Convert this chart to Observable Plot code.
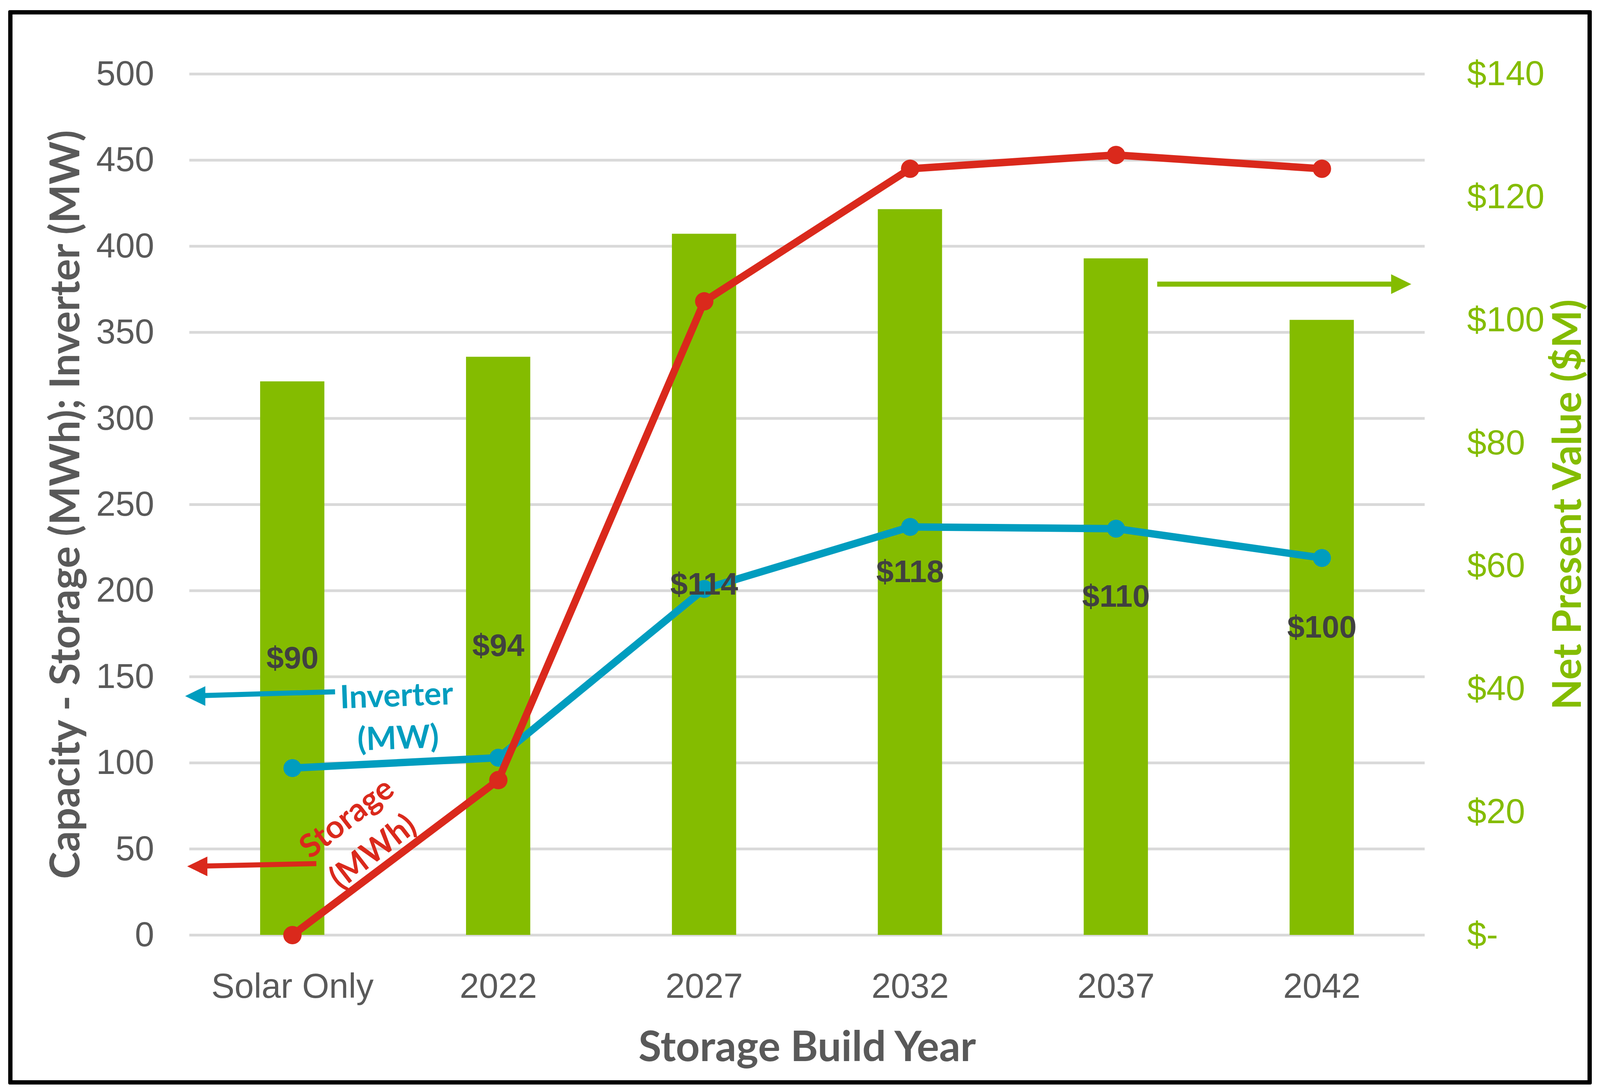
<!DOCTYPE html>
<html>
<head>
<meta charset="utf-8">
<script src="https://cdn.jsdelivr.net/npm/d3@7"></script>
<script src="https://cdn.jsdelivr.net/npm/@observablehq/plot@0.6"></script>
<style>
  html, body { margin: 0; padding: 0; background: #ffffff; overflow: hidden; }
  #chart { position: relative; }
  #chart svg { display: block; }
  #border { position: absolute; box-sizing: border-box; border-style: solid; border-color: #000; border-radius: 4px; pointer-events: none; }
</style>
</head>
<body>
<div id="chart"><div id="border"></div></div>
<script>
// ---- data ----
const categories = ["Solar Only", "2022", "2027", "2032", "2037", "2042"];
const npvValues = [90, 94, 114, 118, 110, 100];          // Net Present Value ($M), right axis
const storageMWh = [0, 90, 368, 445, 453, 445];          // Storage (MWh), left axis
const inverterMW = [97, 103, 201, 237, 236, 219];        // Inverter (MW), left axis
const capacityTicks = [0, 50, 100, 150, 200, 250, 300, 350, 400, 450, 500];
const npvTicks = [0, 20, 40, 60, 80, 100, 120, 140];
const npvTickLabels = ["$-", "$20", "$40", "$60", "$80", "$100", "$120", "$140"];

// annotations (data space: x = category index, y = capacity units)
const annotationTexts = [
  {label: "Inverter\n(MW)", x: 0.509, y: 128.4, angle: -2, series: "inverter"},
  {label: "Storage\n(MWh)", x: 0.318, y: 59.7, angle: -36, series: "storage"}
];
const annotationArrows = [
  {x1: 0.207, y1: 141.3, x2: -0.521, y2: 138.8, series: "inverter"},
  {x1: 0.116, y1: 41.5, x2: -0.511, y2: 39.9, series: "storage"},
  {x1: 4.200, y1: 378.0, x2: 5.434, y2: 378.0, series: "npv"}
];

// ---- layout (designed at 4353 x 2790, fitted to the window) ----
const W = document.documentElement.clientWidth || window.innerWidth || 4353;
const H = window.innerHeight || 2790;
const sx = W / 4353, sy = H / 2790;
const X = v => v * sx, Y = v => v * sy;

const GREEN = "#84BC00", RED = "#DA291C", BLUE = "#009DBF", GRAY = "#595959", DARK = "#404040";
const seriesColor = {inverter: BLUE, storage: RED, npv: GREEN};
const leftMax = capacityTicks[capacityTicks.length - 1];
const rightMax = npvTicks[npvTicks.length - 1];
const k = leftMax / rightMax; // NPV -> left-axis units
const barHalf = 0.156;
const TICK_FONT = "'Liberation Sans', Arial, sans-serif";
const TITLE_FONT = "Lato, 'Open Sans', sans-serif";

const border = document.getElementById("border");
Object.assign(border.style, {left: X(22) + "px", top: Y(26) + "px", width: X(4309) + "px", height: Y(2750) + "px", borderWidth: Y(11) + "px"});

const rows = categories.map((c, i) => ({i, cat: c, npv: npvValues[i], storage: storageMWh[i], inverter: inverterMW[i]}));
const labels = annotationTexts.map(a => ({...a, rot: Math.atan(Math.tan(a.angle * Math.PI / 180) * sy / sx) * 180 / Math.PI}));

const arrowHead = {
  draw(context, size) {
    const s = Math.sqrt(size / Math.PI);
    const L = s * 2.15, Wd = s * 2.1;
    context.moveTo(0, 0);
    context.lineTo(-L, -Wd / 2);
    context.lineTo(-L, Wd / 2);
    context.closePath();
  }
};
const shaftBack = 0.08;
const shafts = annotationArrows.map(a => {
  const dx = a.x1 - a.x2;
  const f = shaftBack / Math.abs(dx);
  return {...a, sx: a.x2 + dx * f, sy: a.y2 + (a.y1 - a.y2) * f, dir: dx > 0 ? 180 : 0};
});

const plot = Plot.plot({
  width: W,
  height: H,
  marginLeft: X(515),
  marginRight: X(477),
  marginTop: Y(189),
  marginBottom: Y(397),
  style: {fontFamily: TICK_FONT, background: "transparent"},
  x: {type: "linear", domain: [-0.5, categories.length - 0.5]},
  y: {domain: [0, leftMax]},
  marks: [
    Plot.ruleY(capacityTicks, {stroke: "#D9D9D9", strokeWidth: 7}),
    Plot.rectY(rows, {x1: d => d.i - barHalf, x2: d => d.i + barHalf, y1: 0, y2: d => d.npv * k, fill: GREEN}),
    Plot.line(rows, {x: "i", y: "inverter", stroke: BLUE, strokeWidth: 19}),
    Plot.dot(rows, {x: "i", y: "inverter", r: 23, fill: BLUE}),
    Plot.line(rows, {x: "i", y: "storage", stroke: RED, strokeWidth: 19}),
    Plot.dot(rows, {x: "i", y: "storage", r: 23.5, fill: RED}),
    Plot.text(rows, {x: "i", y: d => d.npv * k / 2, text: d => "$" + d.npv, fontSize: 80, fontWeight: "bold", fill: DARK, fontFamily: TICK_FONT}),
    // annotations
    Plot.link(shafts, {x1: "x1", y1: "y1", x2: "sx", y2: "sy", stroke: d => seriesColor[d.series], strokeWidth: 13}),
    Plot.dot(shafts, {x: "x2", y: "y2", symbol: arrowHead, r: 24, fill: d => seriesColor[d.series], stroke: "none", rotate: "dir"}),
    Plot.text(labels, {x: "x", y: "y", text: "label", rotate: "rot", fill: d => seriesColor[d.series],
      fontSize: 82, fontWeight: "bold", fontFamily: TITLE_FONT, lineHeight: 1.33, textAnchor: "middle"}),
    // axes
    Plot.axisY({anchor: "left", ticks: capacityTicks, tickSize: 0, tickPadding: X(96), fontSize: 89, fill: GRAY, label: null}),
    Plot.axisY({anchor: "right", ticks: npvTicks.map(v => v * k), tickSize: 0, tickPadding: X(115), fontSize: 89, fill: GREEN, label: null,
      tickFormat: d => npvTickLabels[npvTicks.findIndex(t => Math.abs(t * k - d) < 1e-6)]}),
    Plot.axisX({ticks: categories.map((c, i) => i), tickFormat: i => categories[i], tickSize: 0, tickPadding: Y(97), fontSize: 89, fill: GRAY, label: null}),
    // titles
    Plot.text(["Capacity - Storage (MWh); Inverter (MW)"], {text: d => d, frameAnchor: "left", dx: X(-335), rotate: -90, textAnchor: "middle", lineAnchor: "middle",
      fontSize: 105, fontWeight: "bold", fontFamily: TITLE_FONT, fill: GRAY, ariaLabel: "left-title"}),
    Plot.text(["Net Present Value ($M)"], {text: d => d, frameAnchor: "right", dx: X(368) + 20, rotate: -90, textAnchor: "middle", lineAnchor: "middle",
      fontSize: 102, fontWeight: "bold", fontFamily: TITLE_FONT, fill: GREEN}),
    Plot.text(["Storage Build Year"], {text: d => d, frameAnchor: "bottom", dy: Y(288), textAnchor: "middle", lineAnchor: "middle",
      fontSize: 107, fontWeight: "bold", fontFamily: TITLE_FONT, fill: GRAY})
  ]
});

// colour the parts of the left axis title
const titleParts = [["Capacity - ", GRAY], ["Storage (MWh)", RED], ["; ", GRAY], ["Inverter (MW)", BLUE]];
const lt = plot.querySelector('[aria-label="left-title"] text');
if (lt) {
  lt.textContent = "";
  for (const [s, c] of titleParts) {
    const ts = document.createElementNS("http://www.w3.org/2000/svg", "tspan");
    ts.textContent = s;
    ts.setAttribute("fill", c);
    lt.appendChild(ts);
  }
}

const chart = document.getElementById("chart");
chart.style.width = W + "px";
chart.style.height = H + "px";
chart.prepend(plot);
</script>
</body>
</html>
